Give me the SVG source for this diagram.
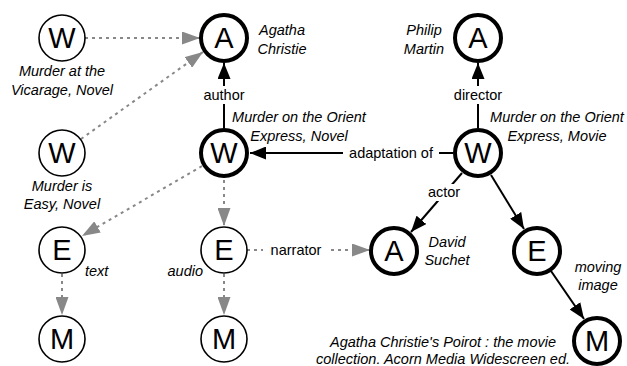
<svg xmlns="http://www.w3.org/2000/svg" width="627" height="366" viewBox="0 0 627 366">
<defs>
<marker id="ab" markerUnits="userSpaceOnUse" markerWidth="17" markerHeight="13" refX="16" refY="6.5" orient="auto"><path d="M0,0 L16,6.5 L0,13 z" fill="#000"/></marker>
<marker id="ag" markerUnits="userSpaceOnUse" markerWidth="19" markerHeight="13" refX="18" refY="6.5" orient="auto"><path d="M0,0 L18,6.5 L0,13 z" fill="#888"/></marker>
<style>
.thin{fill:#fff;stroke:#000;stroke-width:1.6}
.thick{fill:#fff;stroke:#000;stroke-width:4}
.nl{font-family:"Liberation Sans",Arial,sans-serif;font-size:29px;text-anchor:middle;fill:#000}
.lab{font-family:"Liberation Sans",Arial,sans-serif;font-size:14.5px;font-style:italic;text-anchor:middle;fill:#000}
.el{font-family:"Liberation Sans",Arial,sans-serif;font-size:14.5px;text-anchor:middle;fill:#000}
.bg{fill:#fff}
.g{stroke:#888;stroke-width:2;stroke-dasharray:3 4;fill:none;marker-end:url(#ag)}
.b{stroke:#000;stroke-width:2;fill:none;marker-end:url(#ab)}
</style>
</defs>
<g id="connectors">
<line class="g" x1="85" y1="38" x2="200" y2="38"/>
<line class="g" x1="81" y1="139" x2="203" y2="52"/>
<line class="g" x1="202" y1="166" x2="82" y2="236"/>
<line class="g" x1="224" y1="180" x2="224" y2="226"/>
<line class="g" x1="62" y1="274" x2="62" y2="315"/>
<line class="g" x1="224" y1="274" x2="224" y2="315"/>
<line class="g" x1="247" y1="250" x2="370" y2="250"/>
<rect class="bg" x="263" y="240" width="66" height="20"/>
<text class="el" x="296" y="255">narrator</text>
<line class="b" x1="224" y1="128" x2="224" y2="63"/>
<rect class="bg" x="200" y="86" width="48" height="18"/>
<text class="el" x="224" y="100">author</text>
<line class="b" x1="478" y1="128" x2="478" y2="63"/>
<rect class="bg" x="451" y="86" width="54" height="18"/>
<text class="el" x="478" y="100">director</text>
<line class="b" x1="453" y1="153" x2="250" y2="153"/>
<rect class="bg" x="343" y="143" width="96" height="20"/>
<text class="el" x="391" y="158">adaptation of</text>
<line class="b" x1="462" y1="173" x2="411" y2="232"/>
<rect class="bg" x="427" y="184" width="36" height="17"/>
<text class="el" x="444" y="197">actor</text>
<line class="b" x1="491" y1="175" x2="524" y2="229"/>
<line class="b" x1="551" y1="271" x2="584" y2="319"/>
</g>
<g id="W1"><circle class="thin" cx="62" cy="38" r="23"/><text class="nl" x="62" y="48">W</text>
<text class="lab" x="62" y="76">Murder at the</text><text class="lab" x="62" y="95">Vicarage, Novel</text></g>
<g id="A1"><circle class="thick" cx="224" cy="38" r="23"/><text class="nl" x="224" y="48">A</text>
<text class="lab" x="282" y="35">Agatha</text><text class="lab" x="282" y="54">Christie</text></g>
<g id="W2"><circle class="thin" cx="62" cy="153" r="23"/><text class="nl" x="62" y="163">W</text>
<text class="lab" x="62" y="191">Murder is</text><text class="lab" x="62" y="209">Easy, Novel</text></g>
<g id="W3"><circle class="thick" cx="224" cy="153" r="23"/><text class="nl" x="224" y="163">W</text>
<text class="lab" x="299" y="122">Murder on the Orient</text><text class="lab" x="299" y="141">Express, Novel</text></g>
<g id="A2"><circle class="thick" cx="478" cy="38" r="23"/><text class="nl" x="478" y="48">A</text>
<text class="lab" x="424" y="35">Philip</text><text class="lab" x="424" y="54">Martin</text></g>
<g id="W4"><circle class="thick" cx="478" cy="153" r="23"/><text class="nl" x="478" y="163">W</text>
<text class="lab" x="557" y="122">Murder on the Orient</text><text class="lab" x="557" y="141">Express, Movie</text></g>
<g id="E1"><circle class="thin" cx="62" cy="250" r="23"/><text class="nl" x="62" y="260">E</text>
<text class="lab" x="85" y="276" style="text-anchor:start">text</text></g>
<g id="E2"><circle class="thin" cx="224" cy="250" r="23"/><text class="nl" x="224" y="260">E</text>
<text class="lab" x="203" y="276" style="text-anchor:end">audio</text></g>
<g id="A3"><circle class="thick" cx="394" cy="251" r="23"/><text class="nl" x="394" y="261">A</text>
<text class="lab" x="447" y="247">David</text><text class="lab" x="447" y="265">Suchet</text></g>
<g id="E3"><circle class="thick" cx="537" cy="251" r="23"/><text class="nl" x="537" y="261">E</text>
<text class="lab" x="598" y="272">moving</text><text class="lab" x="598" y="290">image</text></g>
<g id="M1"><circle class="thin" cx="62" cy="339" r="23"/><text class="nl" x="62" y="349">M</text></g>
<g id="M2"><circle class="thin" cx="224" cy="339" r="23"/><text class="nl" x="224" y="349">M</text></g>
<g id="M3"><circle class="thick" cx="597" cy="341" r="23"/><text class="nl" x="597" y="351">M</text>
<text class="lab" x="443" y="347">Agatha Christie's Poirot : the movie</text><text class="lab" x="443" y="364">collection. Acorn Media Widescreen ed.</text></g>
</svg>
